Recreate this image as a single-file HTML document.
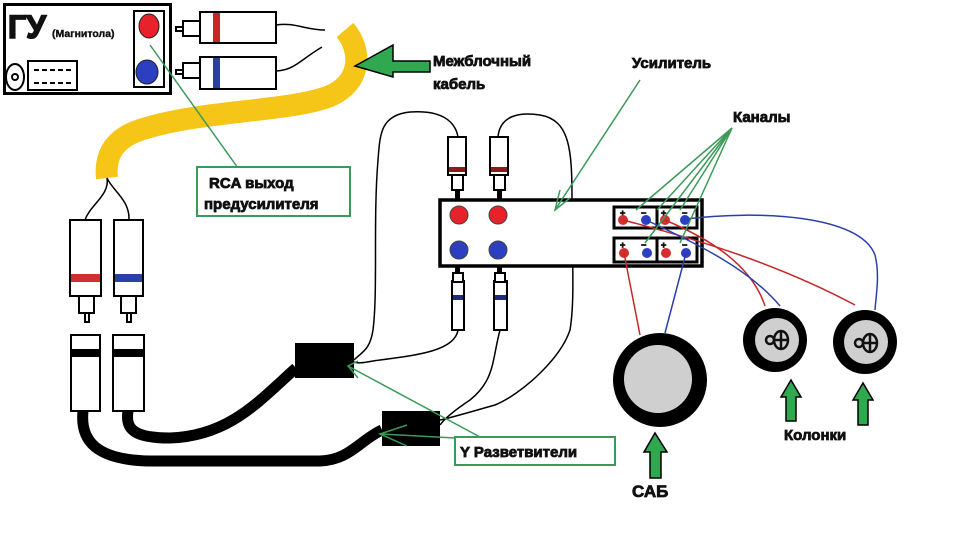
<!DOCTYPE html>
<html><head><meta charset="utf-8"><style>
html,body{margin:0;padding:0;background:#fff;width:960px;height:558px;overflow:hidden}
svg{display:block}
text{font-family:"Liberation Sans","DejaVu Sans",sans-serif;font-weight:700;fill:#111;stroke:#111;stroke-width:0.8px}
</style></head><body>
<svg width="960" height="558" viewBox="0 0 960 558" xmlns="http://www.w3.org/2000/svg" font-weight="700">
<path d="M345,30 C362,50 362,82 330,96 C290,112 200,110 140,130 C110,140 105,160 107,178" fill="none" stroke="#f5c518" stroke-width="22" stroke-linecap="butt"/>
<rect x="4.5" y="4.5" width="166" height="89" fill="#fff" stroke="#000" stroke-width="3"/>
<text x="8" y="38" font-size="32" style="stroke-width:1.6px">ГУ</text>
<text x="52" y="37" font-size="10.5" style="stroke-width:0.4px">(Магнитола)</text>
<rect x="134" y="11" width="30" height="76" fill="none" stroke="#000" stroke-width="2"/>
<ellipse cx="149" cy="26" rx="10" ry="12" fill="#e8222a" stroke="#222" stroke-width="1"/>
<ellipse cx="147" cy="72" rx="11" ry="12" fill="#2b3fc0" stroke="#222" stroke-width="1"/>
<ellipse cx="15" cy="77" rx="9" ry="13" fill="none" stroke="#000" stroke-width="2"/>
<circle cx="15" cy="77" r="3" fill="none" stroke="#000" stroke-width="2"/>
<rect x="28" y="61" width="49" height="29" fill="none" stroke="#000" stroke-width="2"/>
<line x1="34" y1="70" x2="74" y2="70" stroke="#000" stroke-width="2" stroke-dasharray="5,3"/>
<line x1="34" y1="83" x2="74" y2="83" stroke="#000" stroke-width="2" stroke-dasharray="5,3"/>
<g stroke="#000" stroke-width="2" fill="#fff">
<rect x="176" y="27" width="7" height="4"/><rect x="183" y="21" width="17" height="15"/><rect x="200" y="12" width="76" height="31"/>
<rect x="176" y="70" width="7" height="4"/><rect x="183" y="63" width="17" height="15"/><rect x="200" y="57" width="76" height="32"/>
</g>
<rect x="213" y="13" width="7" height="29" fill="#c62828"/>
<rect x="213" y="58" width="7" height="30" fill="#2b3fa8"/>
<path d="M276,25 C295,22 305,30 325,30" fill="none" stroke="#000" stroke-width="1.5"/>
<path d="M276,71 C295,70 300,60 322,47" fill="none" stroke="#000" stroke-width="1.5"/>
<polygon points="355,66 393,45 393,61 430,61 430,72 393,72 393,77" fill="#2fa84f" stroke="#000" stroke-width="1.5"/>
<text x="433" y="66" font-size="15">Межблочный</text>
<text x="433" y="89" font-size="15">кабель</text>
<line x1="150" y1="45" x2="238" y2="168" stroke="#3a9a5a" stroke-width="1.5"/>
<rect x="197" y="167" width="153" height="49" fill="#fff" stroke="#3a9a5a" stroke-width="2"/>
<text x="209" y="188" font-size="15">RCA выход</text>
<text x="204" y="209" font-size="15">предусилителя</text>
<path d="M107,178 C110,195 90,205 85,220" fill="none" stroke="#000" stroke-width="1.5"/>
<path d="M107,178 C112,190 130,200 129,220" fill="none" stroke="#000" stroke-width="1.5"/>
<g stroke="#000" stroke-width="2" fill="#fff">
<rect x="70" y="220" width="31" height="76"/><rect x="79" y="296" width="15" height="17"/><rect x="85" y="313" width="4" height="9"/>
<rect x="114" y="220" width="29" height="76"/><rect x="121" y="296" width="15" height="17"/><rect x="127" y="313" width="4" height="9"/>
<rect x="71" y="335" width="29" height="76"/><rect x="113" y="335" width="31" height="76"/>
</g>
<rect x="71" y="274" width="29" height="8" fill="#d32f2f"/>
<rect x="115" y="274" width="27" height="8" fill="#2b3fa8"/>
<rect x="71" y="349" width="29" height="8" fill="#000"/>
<rect x="113" y="349" width="31" height="8" fill="#000"/>
<path d="M83,411 C80,440 95,460 150,461 L320,461 C350,460 360,440 382,430" fill="none" stroke="#000" stroke-width="11"/>
<path d="M128,411 C125,430 135,438 170,438 C230,436 260,400 296,368" fill="none" stroke="#000" stroke-width="11"/>
<rect x="295" y="343" width="59" height="35" fill="#000"/>
<rect x="382" y="411" width="58" height="35" fill="#000"/>
<path d="M458,137 C455,120 440,110 410,112 C380,115 380,135 378,160 C373,220 378,290 373,330 C370,350 362,352 354,360" fill="none" stroke="#000" stroke-width="1.5"/>
<path d="M498,137 C500,115 520,112 540,115 C570,120 572,150 572,200 C572,260 575,300 570,330 C560,360 520,395 495,405 C470,412 450,418 440,420" fill="none" stroke="#000" stroke-width="1.5"/>
<path d="M458,330 C455,350 420,355 380,360 C365,362 360,364 354,362" fill="none" stroke="#000" stroke-width="1.5"/>
<path d="M500,330 C492,360 495,380 470,400 C455,410 445,418 440,425" fill="none" stroke="#000" stroke-width="1.5"/>
<g stroke="#000" stroke-width="2" fill="#fff">
<rect x="448" y="137" width="18" height="38"/><rect x="452" y="175" width="11" height="15"/>
<rect x="490" y="137" width="18" height="38"/><rect x="494" y="175" width="11" height="15"/>
<rect x="452" y="281" width="12" height="49"/><rect x="453" y="273" width="10" height="9"/>
<rect x="494" y="281" width="13" height="49"/><rect x="495" y="273" width="10" height="9"/>
</g>
<rect x="449" y="167" width="16" height="5" fill="#8b1a1a"/>
<rect x="491" y="167" width="16" height="5" fill="#8b1a1a"/>
<rect x="453" y="295" width="10" height="5" fill="#1f2a7a"/>
<rect x="495" y="295" width="11" height="5" fill="#1f2a7a"/>
<rect x="455" y="190" width="5" height="9" fill="#000"/><rect x="497" y="190" width="5" height="9" fill="#000"/>
<rect x="455" y="267" width="5" height="6" fill="#000"/><rect x="497" y="267" width="5" height="6" fill="#000"/>
<rect x="440" y="200" width="262" height="66" fill="#fff" stroke="#000" stroke-width="3.5"/>
<circle cx="459" cy="215" r="9" fill="#e8222a" stroke="#444"/>
<circle cx="498" cy="215" r="9" fill="#e8222a" stroke="#444"/>
<circle cx="459" cy="250" r="9" fill="#2b3fc0" stroke="#444"/>
<circle cx="498" cy="250" r="9" fill="#2b3fc0" stroke="#444"/>
<rect x="614" y="207" width="83" height="21" fill="#fff" stroke="#000" stroke-width="3"/>
<line x1="657" y1="207" x2="657" y2="228" stroke="#000" stroke-width="3"/>
<rect x="614" y="238" width="83" height="24" fill="#fff" stroke="#000" stroke-width="3"/>
<line x1="657" y1="238" x2="657" y2="262" stroke="#000" stroke-width="3"/>
<g style="stroke-width:0.3px">
<text x="620" y="216" font-size="9">+</text><text x="641" y="216" font-size="9">−</text><text x="661" y="216" font-size="9">+</text><text x="682" y="216" font-size="9">−</text>
<text x="620" y="248" font-size="9">+</text><text x="641" y="248" font-size="9">−</text><text x="661" y="248" font-size="9">+</text><text x="682" y="248" font-size="9">−</text>
</g>
<circle cx="623" cy="220" r="5" fill="#d32f2f"/><circle cx="646" cy="220" r="5" fill="#2b3fc0"/>
<circle cx="665" cy="220" r="5" fill="#d32f2f"/><circle cx="685" cy="220" r="5" fill="#2b3fc0"/>
<circle cx="624" cy="253" r="5" fill="#d32f2f"/><circle cx="647" cy="253" r="5" fill="#2b3fc0"/>
<circle cx="666" cy="253" r="5" fill="#d32f2f"/><circle cx="686" cy="253" r="5" fill="#2b3fc0"/>
<g fill="none" stroke-width="1.5">
<path d="M623,220 C700,240 780,265 855,305" stroke="#c62828"/>
<path d="M665,220 C700,235 750,260 765,306" stroke="#c62828"/>
<path d="M646,220 C700,245 750,270 780,306" stroke="#2b3fa8"/>
<path d="M685,219 C760,210 860,215 875,255 C880,275 876,295 875,310" stroke="#2b3fa8"/>
<path d="M624,253 L640,335" stroke="#c62828"/>
<path d="M686,253 L665,333" stroke="#2b3fa8"/>
</g>
<circle cx="660" cy="380" r="47" fill="#000"/><circle cx="658" cy="379" r="34" fill="#cfcfcf"/>
<circle cx="775" cy="340" r="32" fill="#000"/><circle cx="777" cy="340" r="22" fill="#cfcfcf"/>
<circle cx="865" cy="342" r="32" fill="#000"/><circle cx="866" cy="342" r="22" fill="#cfcfcf"/>
<g fill="none" stroke="#111" stroke-width="2.5">
<ellipse cx="781" cy="340" rx="7" ry="9"/><circle cx="770" cy="340" r="4"/><line x1="774" y1="340" x2="788" y2="340"/><line x1="781" y1="331" x2="781" y2="349"/>
<ellipse cx="870" cy="343" rx="7" ry="9"/><circle cx="859" cy="343" r="4"/><line x1="863" y1="343" x2="877" y2="343"/><line x1="870" y1="334" x2="870" y2="352"/>
</g>
<g fill="#2fa84f" stroke="#000" stroke-width="1.5">
<polygon points="655,433 644,452 650,452 650,478 661,478 661,452 667,452"/>
<polygon points="791,380 781,397 786,397 786,421 796,421 796,397 801,397"/>
<polygon points="863,383 853,400 858,400 858,425 868,425 868,400 873,400"/>
</g>
<text x="632" y="497" font-size="17">САБ</text>
<text x="784" y="440" font-size="15">Колонки</text>
<rect x="455" y="437" width="160" height="28" fill="#fff" stroke="#3a9a5a" stroke-width="2"/>
<text x="460" y="457" font-size="15">Y Разветвители</text>
<g stroke="#3a9a5a" stroke-width="1.5" fill="none">
<line x1="480" y1="437" x2="348" y2="366"/><polyline points="358,361 348,366 358,378"/>
<line x1="455" y1="438" x2="380" y2="434"/><polyline points="407,425 380,434 407,446"/>
<line x1="640" y1="80" x2="555" y2="210"/><polyline points="560,190 555,210 570,198"/>
<line x1="732" y1="128" x2="636" y2="210"/>
<line x1="732" y1="128" x2="657" y2="210"/>
<line x1="732" y1="128" x2="680" y2="210"/>
<line x1="732" y1="128" x2="645" y2="243"/>
<line x1="732" y1="128" x2="680" y2="243"/>
</g>
<text x="632" y="68" font-size="15">Усилитель</text>
<text x="733" y="122" font-size="15">Каналы</text>
</svg>
</body></html>
